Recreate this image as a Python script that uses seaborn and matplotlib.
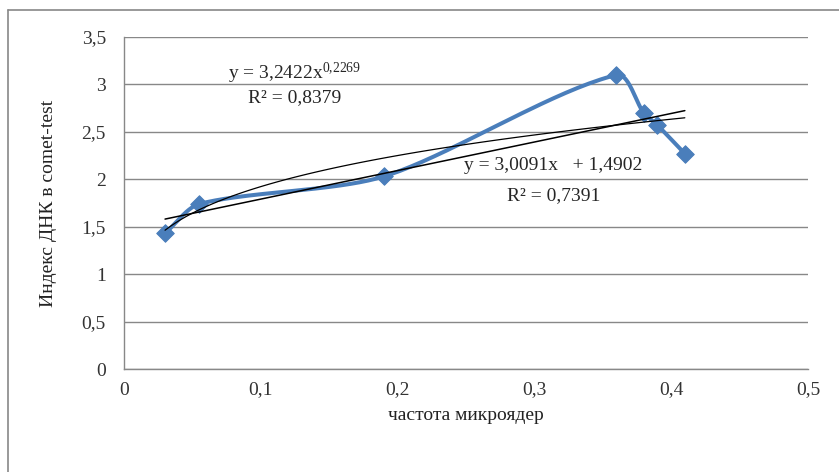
import numpy as np
import pandas as pd
import seaborn as sns
import matplotlib
matplotlib.use("Agg")
import matplotlib.pyplot as plt
from matplotlib.ticker import FuncFormatter

# точки
chastota = [0.03, 0.055, 0.19, 0.36, 0.38, 0.39, 0.41]
indeks = [1.43, 1.74, 2.03, 3.10, 2.70, 2.57, 2.27]

# линии тренда (коэффициенты из подписей)
lin_k, lin_b, lin_r2 = 3.0091, 1.4902, 0.7391
pow_a, pow_n, pow_r2 = 3.2422, 0.2269, 0.8379

x_ticks = [0, 0.1, 0.2, 0.3, 0.4, 0.5]
y_ticks = [0, 0.5, 1, 1.5, 2, 2.5, 3, 3.5]

sns.set_theme(style="white")
plt.rcParams['font.family'] = ['Liberation Serif', 'DejaVu Serif']
plt.rcParams['mathtext.fontset'] = 'custom'
plt.rcParams['mathtext.rm'] = 'Liberation Serif'
plt.rcParams['mathtext.it'] = 'Liberation Serif'
plt.rcParams['mathtext.default'] = 'regular'

df = pd.DataFrame({'x': chastota, 'y': indeks})

# масштаб в пикселях, чтобы сглаживать как на экране
SX, SY = 1368.0, 94.86


def excel_smooth(xs, ys, n=40, k=0.27):
    p = np.column_stack([np.array(xs) * SX, np.array(ys) * SY])
    m = len(p)
    tang = []
    for i in range(m):
        a = p[i - 1] if i > 0 else p[i]
        b = p[i + 1] if i < m - 1 else p[i]
        d = b - a
        tang.append(d / np.linalg.norm(d))
    out = []
    for i in range(m - 1):
        L = np.linalg.norm(p[i + 1] - p[i])
        c1 = p[i] + tang[i] * L * k
        c2 = p[i + 1] - tang[i + 1] * L * k
        t = np.linspace(0, 1, n)[:, None]
        seg = ((1 - t) ** 3 * p[i] + 3 * (1 - t) ** 2 * t * c1
               + 3 * (1 - t) * t ** 2 * c2 + t ** 3 * p[i + 1])
        out.append(seg if i == 0 else seg[1:])
    s = np.vstack(out)
    return pd.DataFrame({'x': s[:, 0] / SX, 'y': s[:, 1] / SY})


smooth = excel_smooth(chastota, indeks)

fig = plt.figure(figsize=(8.39, 4.72), dpi=100)
ax = fig.add_axes([0.1478, 0.2182, 0.8152, 0.7034])

blue = '#4a7ebb'
sns.lineplot(data=smooth, x='x', y='y', sort=False, estimator=None,
             color=blue, lw=2.9, ax=ax, zorder=3)
sns.scatterplot(data=df, x='x', y='y', marker='D', s=80, color=blue,
                edgecolor=blue, ax=ax, zorder=4)

tx = np.linspace(min(chastota), max(chastota), 100)
trend = pd.DataFrame({'x': tx,
                      'lin': lin_k * tx + lin_b,
                      'pow': pow_a * tx ** pow_n})
sns.lineplot(data=trend, x='x', y='lin', color='black', lw=1.1, ax=ax, zorder=5)
sns.lineplot(data=trend, x='x', y='pow', color='black', lw=0.9, ax=ax, zorder=5)

fs = 14
ax.text(0.125, 3.12, 'y = 3,2422x$^{0{,}2269}$', ha='center', va='center', fontsize=fs)
ax.text(0.125, 2.86, 'R² = 0,8379', ha='center', va='center', fontsize=fs)
ax.text(0.314, 2.15, 'y = 3,0091x   + 1,4902', ha='center', va='center', fontsize=fs)
ax.text(0.314, 1.83, 'R² = 0,7391', ha='center', va='center', fontsize=fs)

ax.set_xlim(0, 0.5)
ax.set_ylim(0, 3.5)
ax.set_xticks(x_ticks)
ax.set_yticks(y_ticks)
fmt = FuncFormatter(lambda v, p: ('%g' % v).replace('.', ','))
ax.xaxis.set_major_formatter(fmt)
ax.yaxis.set_major_formatter(fmt)
ax.tick_params(axis='both', labelsize=fs, colors='#333333', direction='out',
               length=5, width=1, color='#888888')
ax.tick_params(axis='x', pad=4)
ax.tick_params(axis='y', pad=8)

ax.yaxis.grid(True, color='#888888', lw=1)
ax.xaxis.grid(False)
for side in ['top', 'right']:
    ax.spines[side].set_visible(False)
for side in ['left', 'bottom']:
    ax.spines[side].set_color('#888888')
    ax.spines[side].set_linewidth(1)

ax.set_xlabel('частота микроядер', fontsize=fs, labelpad=6, color='#222222')
ax.set_ylabel('Индекс ДНК в comet-test', fontsize=fs, labelpad=18, color='#222222')

# рамка области диаграммы
fig.add_artist(plt.Line2D([8 / 839, 1], [1 - 10 / 472, 1 - 10 / 472],
                          color='#888888', lw=1.2, transform=fig.transFigure))
fig.add_artist(plt.Line2D([8 / 839, 8 / 839], [0, 1 - 10 / 472],
                          color='#888888', lw=1.2, transform=fig.transFigure))

fig.savefig('out.png', dpi=100)
